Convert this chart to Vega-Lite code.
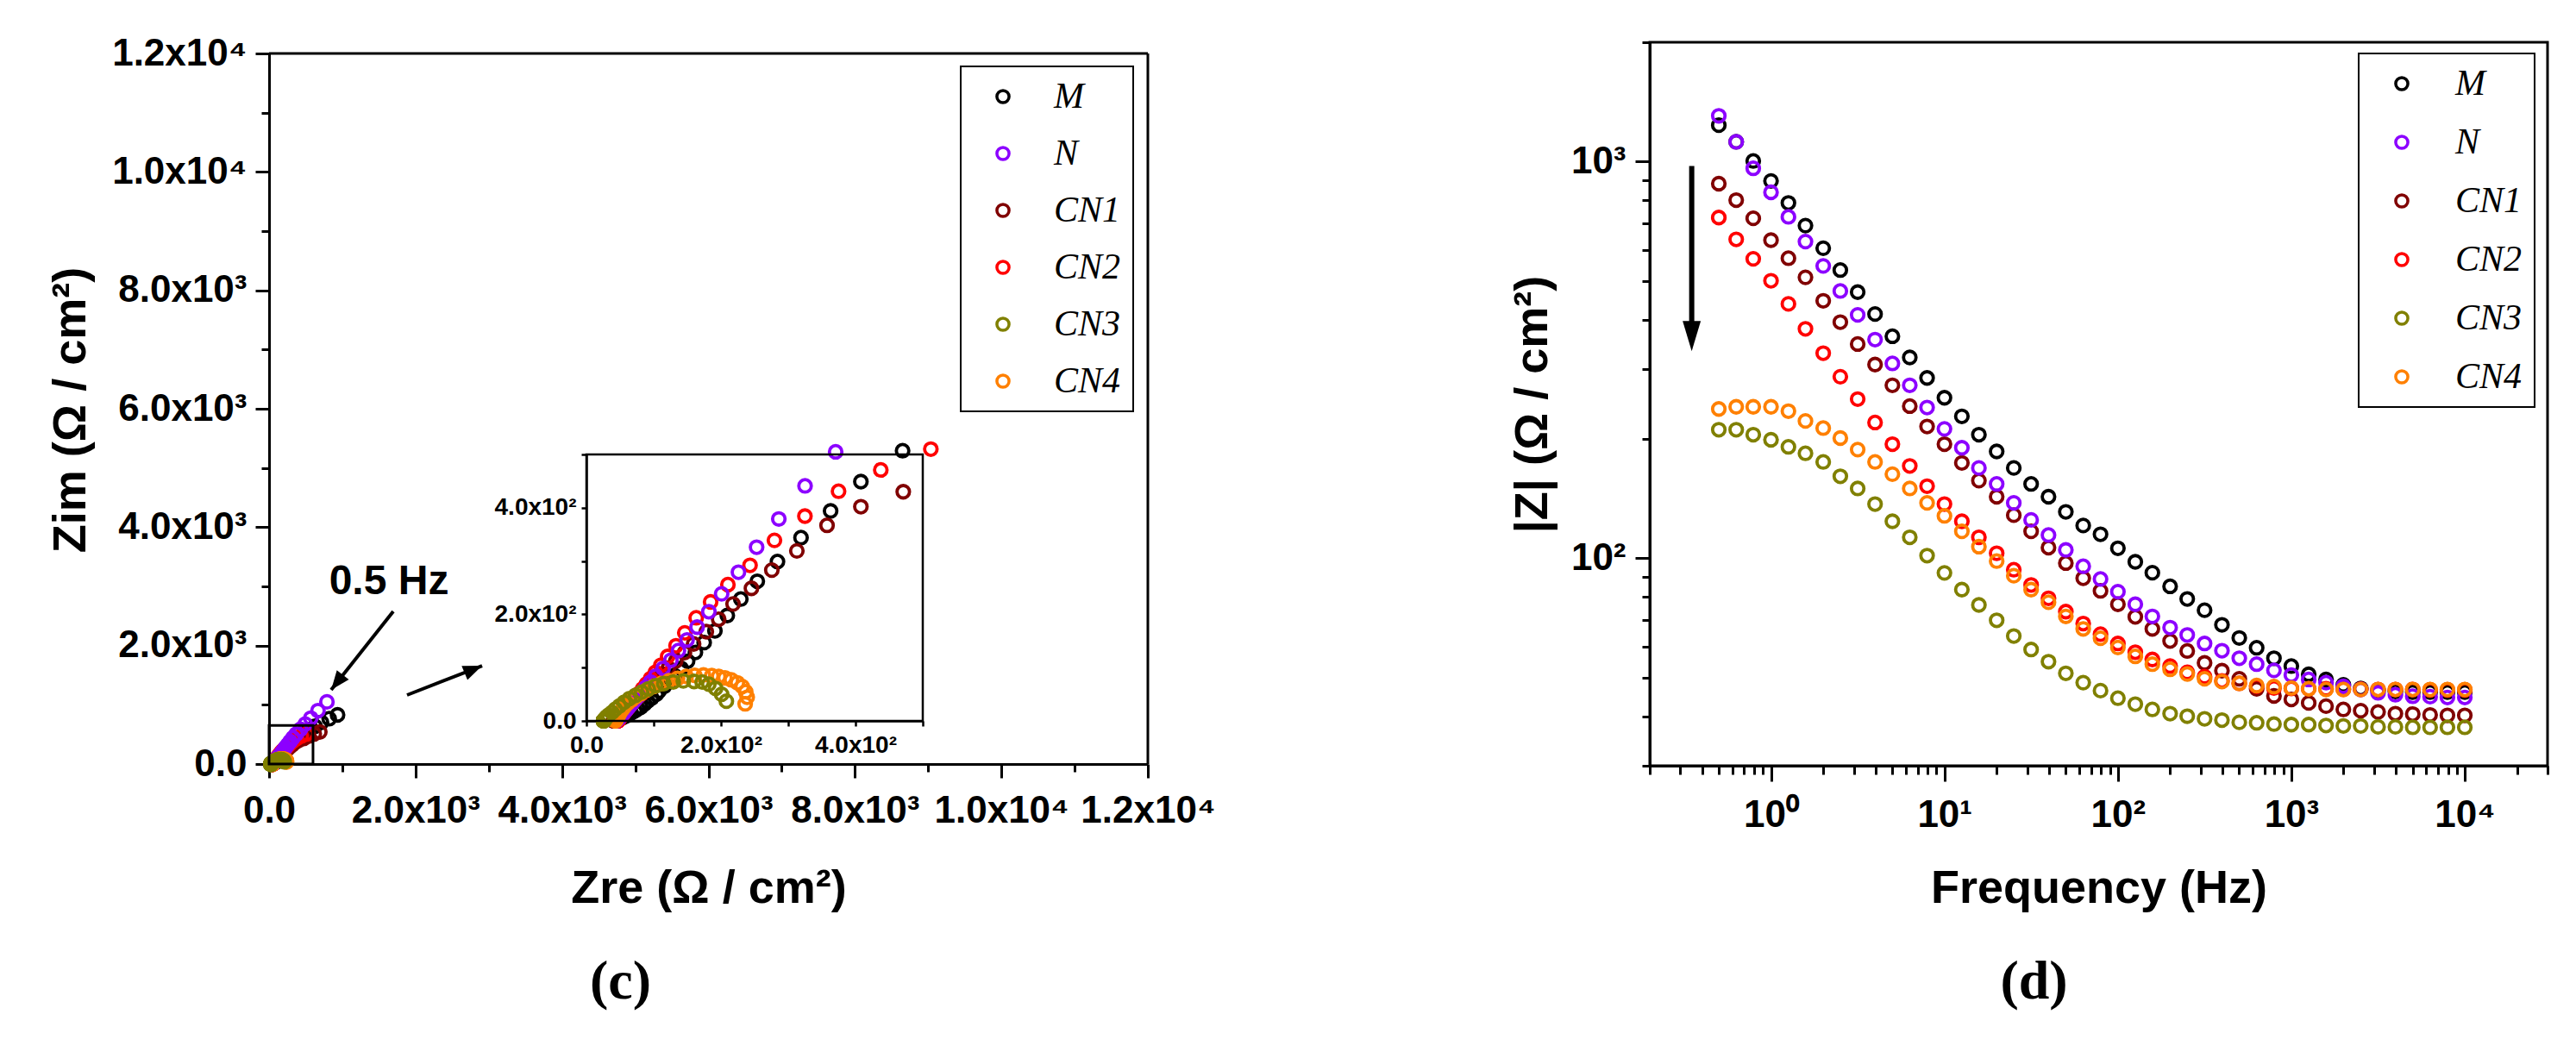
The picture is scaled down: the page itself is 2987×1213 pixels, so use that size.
{
  "$schema": "https://vega.github.io/schema/vega-lite/v6.json",
  "background": "white",
  "padding": {"left": 55, "top": 25, "right": 5, "bottom": 5},
  "bounds": "flush",
  "spacing": 582,
  "config": {
    "font": "Liberation Sans",
    "view": {"stroke": null},
    "axis": {
      "grid": false,
      "domainColor": "black",
      "domainWidth": 3,
      "tickColor": "black",
      "tickWidth": 3,
      "labelFont": "Liberation Sans",
      "labelFontWeight": "bold",
      "labelFontSize": 44,
      "labelColor": "black",
      "labelOverlap": false,
      "labelFlush": false,
      "titleFont": "Liberation Sans",
      "titleFontWeight": "bold",
      "titleFontSize": 54,
      "titleColor": "black"
    },
    "legend": {
      "direction": "vertical",
      "strokeColor": "black",
      "strokeWidth": 2,
      "fillColor": "white",
      "padding": 14,
      "labelFont": "Liberation Serif",
      "labelFontStyle": "italic",
      "labelFontSize": 42,
      "labelColor": "black",
      "symbolType": "circle",
      "symbolSize": 200,
      "symbolStrokeWidth": 3.5
    }
  },
  "datasets": {
    "eis": [
      {"sample":"M","freq":0.5,"Z":1236,"Zre":935,"Zim":830},
      {"sample":"M","freq":0.63,"Z":1122,"Zre":821,"Zim":765},
      {"sample":"M","freq":0.79,"Z":1004,"Zre":716,"Zim":704},
      {"sample":"M","freq":1,"Z":894,"Zre":627,"Zim":638},
      {"sample":"M","freq":1.26,"Z":787,"Zre":542,"Zim":571},
      {"sample":"M","freq":1.58,"Z":690,"Zre":470,"Zim":507},
      {"sample":"M","freq":2,"Z":605,"Zre":408,"Zim":449},
      {"sample":"M","freq":2.51,"Z":533,"Zre":363,"Zim":394},
      {"sample":"M","freq":3.16,"Z":469,"Zre":319,"Zim":344},
      {"sample":"M","freq":3.98,"Z":413,"Zre":284,"Zim":299},
      {"sample":"M","freq":5.01,"Z":363,"Zre":254,"Zim":262},
      {"sample":"M","freq":6.31,"Z":321,"Zre":229.5,"Zim":228.7},
      {"sample":"M","freq":7.94,"Z":285,"Zre":209.4,"Zim":197.8},
      {"sample":"M","freq":10,"Z":254,"Zre":191,"Zim":169},
      {"sample":"M","freq":12.6,"Z":228,"Zre":175,"Zim":147},
      {"sample":"M","freq":15.8,"Z":205,"Zre":162,"Zim":128.5},
      {"sample":"M","freq":20,"Z":186,"Zre":150.4,"Zim":112},
      {"sample":"M","freq":25.1,"Z":169,"Zre":141,"Zim":98.4},
      {"sample":"M","freq":31.6,"Z":154,"Zre":131,"Zim":85},
      {"sample":"M","freq":39.8,"Z":143,"Zre":124,"Zim":75},
      {"sample":"M","freq":50.1,"Z":131,"Zre":116,"Zim":65},
      {"sample":"M","freq":63.1,"Z":121,"Zre":108,"Zim":56},
      {"sample":"M","freq":79.4,"Z":115,"Zre":104,"Zim":50},
      {"sample":"M","freq":100,"Z":106,"Zre":97,"Zim":43},
      {"sample":"M","freq":126,"Z":98,"Zre":91,"Zim":37},
      {"sample":"M","freq":158,"Z":92,"Zre":86.5,"Zim":32},
      {"sample":"M","freq":200,"Z":85,"Zre":81,"Zim":26},
      {"sample":"M","freq":251,"Z":79,"Zre":76,"Zim":22},
      {"sample":"M","freq":316,"Z":74,"Zre":72,"Zim":19},
      {"sample":"M","freq":398,"Z":68,"Zre":66.5,"Zim":15},
      {"sample":"M","freq":501,"Z":63,"Zre":62,"Zim":12},
      {"sample":"M","freq":631,"Z":59.5,"Zre":59,"Zim":9.5},
      {"sample":"M","freq":794,"Z":56,"Zre":55.5,"Zim":7.5},
      {"sample":"M","freq":1000,"Z":53.5,"Zre":53.2,"Zim":6},
      {"sample":"M","freq":1259,"Z":51,"Zre":50.8,"Zim":4.6},
      {"sample":"M","freq":1585,"Z":49.5,"Zre":49.3,"Zim":3.6},
      {"sample":"M","freq":1995,"Z":48,"Zre":47.9,"Zim":2.8},
      {"sample":"M","freq":2512,"Z":47,"Zre":46.9,"Zim":2.2},
      {"sample":"M","freq":3162,"Z":46.5,"Zre":46.4,"Zim":1.8},
      {"sample":"M","freq":3981,"Z":46.2,"Zre":46.1,"Zim":1.5},
      {"sample":"M","freq":5012,"Z":46,"Zre":46,"Zim":1.2},
      {"sample":"M","freq":6310,"Z":46,"Zre":45.9,"Zim":1},
      {"sample":"M","freq":7943,"Z":46,"Zre":45.9,"Zim":0.9},
      {"sample":"M","freq":10000,"Z":46,"Zre":45.9,"Zim":0.8},

      {"sample":"CN1","freq":0.5,"Z":880,"Zre":693,"Zim":542},
      {"sample":"CN1","freq":0.63,"Z":800,"Zre":617,"Zim":509},
      {"sample":"CN1","freq":0.79,"Z":720,"Zre":543,"Zim":472},
      {"sample":"CN1","freq":1,"Z":634,"Zre":471,"Zim":430},
      {"sample":"CN1","freq":1.26,"Z":571,"Zre":408,"Zim":402},
      {"sample":"CN1","freq":1.58,"Z":511,"Zre":357.7,"Zim":367},
      {"sample":"CN1","freq":2,"Z":446,"Zre":312.8,"Zim":319},
      {"sample":"CN1","freq":2.51,"Z":394,"Zre":275.6,"Zim":283},
      {"sample":"CN1","freq":3.16,"Z":347,"Zre":245.3,"Zim":248.8},
      {"sample":"CN1","freq":3.98,"Z":308,"Zre":218,"Zim":219.5},
      {"sample":"CN1","freq":5.01,"Z":273,"Zre":196.6,"Zim":190.8},
      {"sample":"CN1","freq":6.31,"Z":242,"Zre":178.2,"Zim":167.5},
      {"sample":"CN1","freq":7.94,"Z":215,"Zre":159.3,"Zim":144.4},
      {"sample":"CN1","freq":10,"Z":194,"Zre":145.7,"Zim":128},
      {"sample":"CN1","freq":12.6,"Z":174,"Zre":132.8,"Zim":112.3},
      {"sample":"CN1","freq":15.8,"Z":157,"Zre":121.8,"Zim":99},
      {"sample":"CN1","freq":20,"Z":143,"Zre":112.7,"Zim":88},
      {"sample":"CN1","freq":25.1,"Z":128.5,"Zre":103.2,"Zim":76.5},
      {"sample":"CN1","freq":31.6,"Z":117,"Zre":95.7,"Zim":67.3},
      {"sample":"CN1","freq":39.8,"Z":106.4,"Zre":88.7,"Zim":58.8},
      {"sample":"CN1","freq":50.1,"Z":97.3,"Zre":82.6,"Zim":51.4},
      {"sample":"CN1","freq":63.1,"Z":89.1,"Zre":77,"Zim":44.7},
      {"sample":"CN1","freq":79.4,"Z":82.8,"Zre":72.8,"Zim":39.5},
      {"sample":"CN1","freq":100,"Z":76.6,"Zre":68.4,"Zim":34.3},
      {"sample":"CN1","freq":126,"Z":71.2,"Zre":64.7,"Zim":29.7},
      {"sample":"CN1","freq":158,"Z":66.4,"Zre":61.3,"Zim":25.5},
      {"sample":"CN1","freq":200,"Z":61.9,"Zre":58,"Zim":21.6},
      {"sample":"CN1","freq":251,"Z":58.4,"Zre":55.4,"Zim":18.4},
      {"sample":"CN1","freq":316,"Z":54.5,"Zre":52.4,"Zim":14.8},
      {"sample":"CN1","freq":398,"Z":52.1,"Zre":50.6,"Zim":12.6},
      {"sample":"CN1","freq":501,"Z":49.7,"Zre":48.6,"Zim":10.2},
      {"sample":"CN1","freq":631,"Z":46.9,"Zre":46.3,"Zim":7.4},
      {"sample":"CN1","freq":794,"Z":45,"Zre":44.7,"Zim":5.4},
      {"sample":"CN1","freq":1000,"Z":44.1,"Zre":43.9,"Zim":4.5},
      {"sample":"CN1","freq":1259,"Z":43.2,"Zre":43.1,"Zim":3.5},
      {"sample":"CN1","freq":1585,"Z":42.4,"Zre":42.3,"Zim":2.5},
      {"sample":"CN1","freq":1995,"Z":41.6,"Zre":41.5,"Zim":1.6},
      {"sample":"CN1","freq":2512,"Z":41.3,"Zre":41.3,"Zim":1.3},
      {"sample":"CN1","freq":3162,"Z":41,"Zre":41,"Zim":1},
      {"sample":"CN1","freq":3981,"Z":40.6,"Zre":40.6,"Zim":0.6},
      {"sample":"CN1","freq":5012,"Z":40.5,"Zre":40.5,"Zim":0.5},
      {"sample":"CN1","freq":6310,"Z":40.3,"Zre":40.3,"Zim":0.3},
      {"sample":"CN1","freq":7943,"Z":40.2,"Zre":40.2,"Zim":0.2},
      {"sample":"CN1","freq":10000,"Z":40.2,"Zre":40.2,"Zim":0.2},

      {"sample":"CN2","freq":0.5,"Z":723,"Zre":512,"Zim":510},
      {"sample":"CN2","freq":0.63,"Z":637,"Zre":437.6,"Zim":471},
      {"sample":"CN2","freq":0.79,"Z":569,"Zre":374.8,"Zim":430.9},
      {"sample":"CN2","freq":1,"Z":501,"Zre":324.8,"Zim":384.3},
      {"sample":"CN2","freq":1.26,"Z":438,"Zre":279.5,"Zim":338.8},
      {"sample":"CN2","freq":1.58,"Z":379,"Zre":243.2,"Zim":292},
      {"sample":"CN2","freq":2,"Z":329,"Zre":210.3,"Zim":255.8},
      {"sample":"CN2","freq":2.51,"Z":287,"Zre":184.6,"Zim":223.3},
      {"sample":"CN2","freq":3.16,"Z":252,"Zre":163.2,"Zim":193.5},
      {"sample":"CN2","freq":3.98,"Z":220,"Zre":146.2,"Zim":165.3},
      {"sample":"CN2","freq":5.01,"Z":194,"Zre":133.2,"Zim":141.1},
      {"sample":"CN2","freq":6.31,"Z":171,"Zre":120.8,"Zim":121},
      {"sample":"CN2","freq":7.94,"Z":152,"Zre":110.6,"Zim":104.3},
      {"sample":"CN2","freq":10,"Z":137,"Zre":102.5,"Zim":91},
      {"sample":"CN2","freq":12.6,"Z":124,"Zre":95.3,"Zim":79.3},
      {"sample":"CN2","freq":15.8,"Z":113,"Zre":89.2,"Zim":69.4},
      {"sample":"CN2","freq":20,"Z":103,"Zre":83.6,"Zim":60.2},
      {"sample":"CN2","freq":25.1,"Z":93.6,"Zre":78.2,"Zim":51.4},
      {"sample":"CN2","freq":31.6,"Z":85.7,"Zre":73.6,"Zim":43.9},
      {"sample":"CN2","freq":39.8,"Z":79.3,"Zre":69.8,"Zim":37.7},
      {"sample":"CN2","freq":50.1,"Z":73.4,"Zre":66.2,"Zim":31.8},
      {"sample":"CN2","freq":63.1,"Z":68.5,"Zre":63.1,"Zim":26.7},
      {"sample":"CN2","freq":79.4,"Z":64.4,"Zre":60.4,"Zim":22.3},
      {"sample":"CN2","freq":100,"Z":61,"Zre":58.1,"Zim":18.6},
      {"sample":"CN2","freq":126,"Z":58,"Zre":56,"Zim":15.2},
      {"sample":"CN2","freq":158,"Z":55.6,"Zre":54.2,"Zim":12.3},
      {"sample":"CN2","freq":200,"Z":53.5,"Zre":52.6,"Zim":9.6},
      {"sample":"CN2","freq":251,"Z":51.6,"Zre":51.1,"Zim":7.2},
      {"sample":"CN2","freq":316,"Z":50.3,"Zre":50,"Zim":5.4},
      {"sample":"CN2","freq":398,"Z":49.1,"Zre":48.9,"Zim":3.7},
      {"sample":"CN2","freq":501,"Z":48.4,"Zre":48.3,"Zim":2.6},
      {"sample":"CN2","freq":631,"Z":47.6,"Zre":47.6,"Zim":1.4},
      {"sample":"CN2","freq":794,"Z":47.1,"Zre":47.1,"Zim":0.8},
      {"sample":"CN2","freq":1000,"Z":47,"Zre":47,"Zim":0.7},
      {"sample":"CN2","freq":1259,"Z":46.9,"Zre":46.9,"Zim":0.6},
      {"sample":"CN2","freq":1585,"Z":46.9,"Zre":46.9,"Zim":0.5},
      {"sample":"CN2","freq":1995,"Z":46.8,"Zre":46.8,"Zim":0.5},
      {"sample":"CN2","freq":2512,"Z":46.8,"Zre":46.8,"Zim":0.4},
      {"sample":"CN2","freq":3162,"Z":46.7,"Zre":46.7,"Zim":0.4},
      {"sample":"CN2","freq":3981,"Z":46.7,"Zre":46.7,"Zim":0.3},
      {"sample":"CN2","freq":5012,"Z":46.7,"Zre":46.7,"Zim":0.3},
      {"sample":"CN2","freq":6310,"Z":46.6,"Zre":46.6,"Zim":0.3},
      {"sample":"CN2","freq":7943,"Z":46.6,"Zre":46.6,"Zim":0.2},
      {"sample":"CN2","freq":10000,"Z":46.6,"Zre":46.6,"Zim":0.2},

      {"sample":"N","freq":0.5,"Z":1305,"Zre":790,"Zim":1050},
      {"sample":"N","freq":0.63,"Z":1122,"Zre":668,"Zim":902},
      {"sample":"N","freq":0.79,"Z":962,"Zre":570,"Zim":775},
      {"sample":"N","freq":1,"Z":837,"Zre":494,"Zim":675},
      {"sample":"N","freq":1.26,"Z":726,"Zre":428,"Zim":586},
      {"sample":"N","freq":1.58,"Z":629,"Zre":370.5,"Zim":505},
      {"sample":"N","freq":2,"Z":546,"Zre":325,"Zim":441},
      {"sample":"N","freq":2.51,"Z":472,"Zre":286,"Zim":379},
      {"sample":"N","freq":3.16,"Z":411,"Zre":253,"Zim":326},
      {"sample":"N","freq":3.98,"Z":356,"Zre":226,"Zim":279},
      {"sample":"N","freq":5.01,"Z":310,"Zre":201,"Zim":238.5},
      {"sample":"N","freq":6.31,"Z":273,"Zre":182,"Zim":205},
      {"sample":"N","freq":7.94,"Z":240,"Zre":164.5,"Zim":176},
      {"sample":"N","freq":10,"Z":212,"Zre":149.6,"Zim":152},
      {"sample":"N","freq":12.6,"Z":190,"Zre":136.8,"Zim":132},
      {"sample":"N","freq":15.8,"Z":169,"Zre":125.6,"Zim":114},
      {"sample":"N","freq":20,"Z":154,"Zre":114,"Zim":98.6},
      {"sample":"N","freq":25.1,"Z":138,"Zre":103,"Zim":84},
      {"sample":"N","freq":31.6,"Z":125,"Zre":95.2,"Zim":72.8},
      {"sample":"N","freq":39.8,"Z":114.5,"Zre":88.5,"Zim":63.1},
      {"sample":"N","freq":50.1,"Z":105,"Zre":82.7,"Zim":54.7},
      {"sample":"N","freq":63.1,"Z":95.5,"Zre":77.6,"Zim":47.4},
      {"sample":"N","freq":79.4,"Z":88.7,"Zre":73.2,"Zim":41.1},
      {"sample":"N","freq":100,"Z":82.4,"Zre":69.4,"Zim":35.7},
      {"sample":"N","freq":126,"Z":76.6,"Zre":66.1,"Zim":30.9},
      {"sample":"N","freq":158,"Z":71.4,"Zre":63.3,"Zim":26.8},
      {"sample":"N","freq":200,"Z":66.9,"Zre":60.8,"Zim":23.2},
      {"sample":"N","freq":251,"Z":64.1,"Zre":58.6,"Zim":20.1},
      {"sample":"N","freq":316,"Z":61,"Zre":56.8,"Zim":17.5},
      {"sample":"N","freq":398,"Z":58.5,"Zre":55.1,"Zim":15.1},
      {"sample":"N","freq":501,"Z":56,"Zre":53.7,"Zim":13.1},
      {"sample":"N","freq":631,"Z":54.1,"Zre":52.5,"Zim":11.4},
      {"sample":"N","freq":794,"Z":52.2,"Zre":51.5,"Zim":9.9},
      {"sample":"N","freq":1000,"Z":50.8,"Zre":50.3,"Zim":8},
      {"sample":"N","freq":1259,"Z":49.5,"Zre":49.3,"Zim":6.7},
      {"sample":"N","freq":1585,"Z":48.6,"Zre":48.6,"Zim":5.5},
      {"sample":"N","freq":1995,"Z":47.6,"Zre":47.6,"Zim":4.3},
      {"sample":"N","freq":2512,"Z":46.7,"Zre":46.7,"Zim":3.3},
      {"sample":"N","freq":3162,"Z":45.8,"Zre":45.8,"Zim":2.5},
      {"sample":"N","freq":3981,"Z":45.3,"Zre":45.3,"Zim":1.9},
      {"sample":"N","freq":5012,"Z":44.9,"Zre":44.9,"Zim":1.4},
      {"sample":"N","freq":6310,"Z":44.8,"Zre":44.8,"Zim":1.1},
      {"sample":"N","freq":7943,"Z":44.6,"Zre":44.6,"Zim":0.8},
      {"sample":"N","freq":10000,"Z":44.6,"Zre":44.6,"Zim":0.6},

      {"sample":"CN4","freq":0.5,"Z":238,"Zre":236,"Zim":32},
      {"sample":"CN4","freq":0.63,"Z":241,"Zre":239,"Zim":44.4},
      {"sample":"CN4","freq":0.79,"Z":241,"Zre":236.8,"Zim":54.7},
      {"sample":"CN4","freq":1,"Z":241,"Zre":231.6,"Zim":64.5},
      {"sample":"CN4","freq":1.26,"Z":235,"Zre":224.4,"Zim":71.5},
      {"sample":"CN4","freq":1.58,"Z":222,"Zre":215.4,"Zim":77},
      {"sample":"CN4","freq":2,"Z":213,"Zre":206,"Zim":80.8},
      {"sample":"CN4","freq":2.51,"Z":201,"Zre":196.6,"Zim":83.5},
      {"sample":"CN4","freq":3.16,"Z":188,"Zre":186.3,"Zim":85},
      {"sample":"CN4","freq":3.98,"Z":175,"Zre":174,"Zim":86.2},
      {"sample":"CN4","freq":5.01,"Z":163,"Zre":161,"Zim":85.6},
      {"sample":"CN4","freq":6.31,"Z":150,"Zre":148.3,"Zim":83.5},
      {"sample":"CN4","freq":7.94,"Z":138,"Zre":135.5,"Zim":79.7},
      {"sample":"CN4","freq":10,"Z":128,"Zre":122.6,"Zim":75.3},
      {"sample":"CN4","freq":12.6,"Z":117,"Zre":111,"Zim":70},
      {"sample":"CN4","freq":15.8,"Z":107,"Zre":100,"Zim":64.5},
      {"sample":"CN4","freq":20,"Z":98.4,"Zre":89.7,"Zim":58},
      {"sample":"CN4","freq":25.1,"Z":90.4,"Zre":81.2,"Zim":51.5},
      {"sample":"CN4","freq":31.6,"Z":83.4,"Zre":73.5,"Zim":45.5},
      {"sample":"CN4","freq":39.8,"Z":77.5,"Zre":67.1,"Zim":39},
      {"sample":"CN4","freq":50.1,"Z":71.4,"Zre":61.5,"Zim":33.6},
      {"sample":"CN4","freq":63.1,"Z":66.4,"Zre":57.3,"Zim":28.2},
      {"sample":"CN4","freq":79.4,"Z":62.9,"Zre":53.8,"Zim":22.8},
      {"sample":"CN4","freq":100,"Z":59.6,"Zre":51.3,"Zim":18.4},
      {"sample":"CN4","freq":126,"Z":56.6,"Zre":49.1,"Zim":14.6},
      {"sample":"CN4","freq":158,"Z":54.1,"Zre":47.9,"Zim":11.4},
      {"sample":"CN4","freq":200,"Z":52.5,"Zre":46.6,"Zim":8.7},
      {"sample":"CN4","freq":251,"Z":51.1,"Zre":45.7,"Zim":6.5},
      {"sample":"CN4","freq":316,"Z":49.7,"Zre":44.9,"Zim":4.9},
      {"sample":"CN4","freq":398,"Z":48.9,"Zre":44.5,"Zim":3.8},
      {"sample":"CN4","freq":501,"Z":48.4,"Zre":44.2,"Zim":3},
      {"sample":"CN4","freq":631,"Z":47.8,"Zre":44,"Zim":2.4},
      {"sample":"CN4","freq":794,"Z":47.5,"Zre":43.8,"Zim":2},
      {"sample":"CN4","freq":1000,"Z":47.1,"Zre":43.6,"Zim":1.7},
      {"sample":"CN4","freq":1259,"Z":46.9,"Zre":43.5,"Zim":1.4},
      {"sample":"CN4","freq":1585,"Z":46.7,"Zre":43.4,"Zim":1.2},
      {"sample":"CN4","freq":1995,"Z":46.7,"Zre":43.3,"Zim":1},
      {"sample":"CN4","freq":2512,"Z":46.7,"Zre":43.2,"Zim":0.9},
      {"sample":"CN4","freq":3162,"Z":46.7,"Zre":43.2,"Zim":0.8},
      {"sample":"CN4","freq":3981,"Z":46.7,"Zre":43.1,"Zim":0.7},
      {"sample":"CN4","freq":5012,"Z":46.7,"Zre":43.1,"Zim":0.6},
      {"sample":"CN4","freq":6310,"Z":46.7,"Zre":43,"Zim":0.6},
      {"sample":"CN4","freq":7943,"Z":46.7,"Zre":43,"Zim":0.5},
      {"sample":"CN4","freq":10000,"Z":46.7,"Zre":43,"Zim":0.5},

      {"sample":"CN3","freq":0.5,"Z":211,"Zre":208,"Zim":37},
      {"sample":"CN3","freq":0.63,"Z":211,"Zre":201,"Zim":50},
      {"sample":"CN3","freq":0.79,"Z":205,"Zre":192,"Zim":61},
      {"sample":"CN3","freq":1,"Z":199,"Zre":182,"Zim":69},
      {"sample":"CN3","freq":1.26,"Z":191,"Zre":172,"Zim":73},
      {"sample":"CN3","freq":1.58,"Z":184,"Zre":160,"Zim":74},
      {"sample":"CN3","freq":2,"Z":175,"Zre":144,"Zim":75},
      {"sample":"CN3","freq":2.51,"Z":161,"Zre":129,"Zim":73},
      {"sample":"CN3","freq":3.16,"Z":150,"Zre":115,"Zim":70},
      {"sample":"CN3","freq":3.98,"Z":137,"Zre":103,"Zim":66},
      {"sample":"CN3","freq":5.01,"Z":124,"Zre":92,"Zim":60},
      {"sample":"CN3","freq":6.31,"Z":113,"Zre":82,"Zim":54},
      {"sample":"CN3","freq":7.94,"Z":101.6,"Zre":73,"Zim":48},
      {"sample":"CN3","freq":10,"Z":91.9,"Zre":64,"Zim":42},
      {"sample":"CN3","freq":12.6,"Z":83.4,"Zre":56,"Zim":35},
      {"sample":"CN3","freq":15.8,"Z":76.3,"Zre":49,"Zim":28},
      {"sample":"CN3","freq":20,"Z":69.8,"Zre":43,"Zim":22},
      {"sample":"CN3","freq":25.1,"Z":63.7,"Zre":38,"Zim":16},
      {"sample":"CN3","freq":31.6,"Z":58.9,"Zre":33,"Zim":11},
      {"sample":"CN3","freq":39.8,"Z":54.9,"Zre":30,"Zim":7.6},
      {"sample":"CN3","freq":50.1,"Z":51.3,"Zre":28.5,"Zim":5},
      {"sample":"CN3","freq":63.1,"Z":48.6,"Zre":27.5,"Zim":3.5},
      {"sample":"CN3","freq":79.4,"Z":46.4,"Zre":27,"Zim":2.5},
      {"sample":"CN3","freq":100,"Z":44.4,"Zre":26.6,"Zim":1.9},
      {"sample":"CN3","freq":126,"Z":42.9,"Zre":26.3,"Zim":1.5},
      {"sample":"CN3","freq":158,"Z":41.6,"Zre":26.1,"Zim":1.2},
      {"sample":"CN3","freq":200,"Z":40.6,"Zre":26,"Zim":1},
      {"sample":"CN3","freq":251,"Z":40,"Zre":25.9,"Zim":0.8},
      {"sample":"CN3","freq":316,"Z":39.4,"Zre":25.8,"Zim":0.7},
      {"sample":"CN3","freq":398,"Z":39.1,"Zre":25.7,"Zim":0.6},
      {"sample":"CN3","freq":501,"Z":38.6,"Zre":25.7,"Zim":0.5},
      {"sample":"CN3","freq":631,"Z":38.5,"Zre":25.6,"Zim":0.5},
      {"sample":"CN3","freq":794,"Z":38.2,"Zre":25.6,"Zim":0.4},
      {"sample":"CN3","freq":1000,"Z":38.1,"Zre":25.6,"Zim":0.4},
      {"sample":"CN3","freq":1259,"Z":38.1,"Zre":25.5,"Zim":0.4},
      {"sample":"CN3","freq":1585,"Z":37.9,"Zre":25.5,"Zim":0.3},
      {"sample":"CN3","freq":1995,"Z":37.8,"Zre":25.5,"Zim":0.3},
      {"sample":"CN3","freq":2512,"Z":37.8,"Zre":25.5,"Zim":0.3},
      {"sample":"CN3","freq":3162,"Z":37.6,"Zre":25.5,"Zim":0.3},
      {"sample":"CN3","freq":3981,"Z":37.6,"Zre":25.5,"Zim":0.2},
      {"sample":"CN3","freq":5012,"Z":37.5,"Zre":25.5,"Zim":0.2},
      {"sample":"CN3","freq":6310,"Z":37.5,"Zre":25.5,"Zim":0.2},
      {"sample":"CN3","freq":7943,"Z":37.5,"Zre":25.5,"Zim":0.2},
      {"sample":"CN3","freq":10000,"Z":37.5,"Zre":25.5,"Zim":0.2}
    ]
  },
  "resolve": {"legend": {"color": "independent"}},
  "hconcat": [
    {
      "width": 1019,
      "height": 837,
      "title": {"text": "(c)", "orient": "bottom", "frame": "group", "anchor": "middle", "font": "Liberation Serif", "fontSize": 64, "fontWeight": "bold", "color": "black", "dx": -102, "offset": 50},
      "resolve": {"scale": {"x": "independent", "y": "independent"}},
      "layer": [
        {
          "layer": [
            {
              "data": {"name": "eis"},
              "mark": {"type": "point", "shape": "circle", "filled": false, "size": 210, "strokeWidth": 3.8, "opacity": 1},
              "encoding": {
                "x": {
                  "field": "Zre", "type": "quantitative",
                  "scale": {"domain": [0, 12000], "nice": false, "zero": false},
                  "axis": {
                    "title": "Zre (Ω / cm²)",
                    "values": [0, 1000, 2000, 3000, 4000, 5000, 6000, 7000, 8000, 9000, 10000, 11000, 12000],
                    "labelExpr": "datum.value == 0 ? '0.0' : datum.value % 2000 != 0 ? '' : datum.value < 10000 ? format(datum.value / 1000, '.1f') + 'x10³' : format(datum.value / 10000, '.1f') + 'x10⁴'",
                    "tickSize": 16,
                    "tickDash": {"condition": {"test": "datum.value % 2000 != 0", "value": [9, 40]}, "value": []},
                    "labelPadding": 16,
                    "titleY": 160,
                    "titleBaseline": "alphabetic"
                  }
                },
                "y": {
                  "field": "Zim", "type": "quantitative",
                  "scale": {"domain": [0, 12000], "range": [837, 13], "nice": false, "zero": false},
                  "axis": {
                    "title": "Zim (Ω / cm²)",
                    "values": [0, 1000, 2000, 3000, 4000, 5000, 6000, 7000, 8000, 9000, 10000, 11000, 12000],
                    "labelExpr": "datum.value == 0 ? '0.0' : datum.value % 2000 != 0 ? '' : datum.value < 10000 ? format(datum.value / 1000, '.1f') + 'x10³' : format(datum.value / 10000, '.1f') + 'x10⁴'",
                    "tickSize": 16,
                    "tickDash": {"condition": {"test": "datum.value % 2000 != 0", "value": [9, 40]}, "value": []},
                    "labelPadding": 10,
                    "titleX": -214,
                    "titleY": 426,
                    "titleBaseline": "alphabetic"
                  }
                },
                "color": {
                  "field": "sample", "type": "nominal",
                  "scale": {"domain": ["M", "N", "CN1", "CN2", "CN3", "CN4"], "range": ["#000000", "#8C00FF", "#800000", "#FF0000", "#808000", "#FF8000"]},
                  "legend": {"title": null, "orient": "none", "legendX": 802, "legendY": 28, "symbolOffset": 14, "labelOffset": 38, "rowPadding": 24}
                }
              }
            },
            {
              "data": {"values": [{}]},
              "mark": {"type": "rule", "color": "black", "strokeWidth": 3},
              "encoding": {
                "x": {"datum": 0, "type": "quantitative"},
                "x2": {"datum": 12000},
                "y": {"datum": 12000, "type": "quantitative"}
              }
            },
            {
              "data": {"values": [{}]},
              "mark": {"type": "rule", "color": "black", "strokeWidth": 3},
              "encoding": {
                "x": {"datum": 12000, "type": "quantitative"},
                "y": {"datum": 0, "type": "quantitative"},
                "y2": {"datum": 12000}
              }
            },
            {
              "data": {"values": [{}]},
              "mark": {"type": "rect", "filled": false, "color": "black", "strokeWidth": 3},
              "encoding": {
                "x": {"datum": 0, "type": "quantitative"},
                "x2": {"datum": 600},
                "y": {"datum": 0, "type": "quantitative"},
                "y2": {"datum": 650}
              }
            },
            {
              "data": {"values": [{}]},
              "mark": {"type": "rule", "color": "black", "strokeWidth": 4},
              "encoding": {
                "x": {"datum": 1696, "type": "quantitative"},
                "y": {"datum": 2578, "type": "quantitative"},
                "x2": {"datum": 848},
                "y2": {"datum": 1252}
              }
            },
            {
              "data": {"values": [{}]},
              "mark": {"type": "point", "shape": "M0,0L-0.4,1L0.4,1Z", "filled": true, "color": "black", "opacity": 1, "size": 1936, "angle": 218},
              "encoding": {
                "x": {"datum": 848, "type": "quantitative"},
                "y": {"datum": 1252, "type": "quantitative"}
              }
            },
            {
              "data": {"values": [{}]},
              "mark": {"type": "rule", "color": "black", "strokeWidth": 4},
              "encoding": {
                "x": {"datum": 1884, "type": "quantitative"},
                "y": {"datum": 1165, "type": "quantitative"},
                "x2": {"datum": 2909},
                "y2": {"datum": 1660}
              }
            },
            {
              "data": {"values": [{}]},
              "mark": {"type": "point", "shape": "M0,0L-0.4,1L0.4,1Z", "filled": true, "color": "black", "opacity": 1, "size": 1936, "angle": 67.5},
              "encoding": {
                "x": {"datum": 2909, "type": "quantitative"},
                "y": {"datum": 1660, "type": "quantitative"}
              }
            },
            {
              "data": {"values": [{}]},
              "mark": {"type": "text", "text": "0.5 Hz", "font": "Liberation Sans", "fontWeight": "bold", "fontSize": 48, "color": "black", "align": "center", "baseline": "middle"},
              "encoding": {
                "x": {"datum": 1637, "type": "quantitative"},
                "y": {"datum": 3073, "type": "quantitative"}
              }
            }
          ]
        },
        {
          "layer": [
            {
              "data": {"name": "eis"},
              "transform": [{"filter": "datum.Zre <= 512 && datum.Zim <= 512"}],
              "mark": {"type": "point", "shape": "circle", "filled": false, "size": 210, "strokeWidth": 3.8, "opacity": 1},
              "encoding": {
                "x": {
                  "field": "Zre", "type": "quantitative",
                  "scale": {"domain": [0, 500], "range": [368, 758], "nice": false, "zero": false},
                  "axis": {
                    "title": null, "orient": "bottom", "offset": -50,
                    "values": [0, 100, 200, 300, 400, 500],
                    "labelExpr": "datum.value == 0 ? '0.0' : datum.value == 200 ? '2.0x10²' : datum.value == 400 ? '4.0x10²' : ''",
                    "tickSize": 6, "tickWidth": 2.5, "domainWidth": 2.5,
                    "labelFontSize": 28, "labelPadding": 8
                  }
                },
                "y": {
                  "field": "Zim", "type": "quantitative",
                  "scale": {"domain": [0, 500], "range": [787, 478], "nice": false, "zero": false},
                  "axis": {
                    "title": null, "orient": "left", "offset": -368,
                    "values": [0, 100, 200, 300, 400, 500],
                    "labelExpr": "datum.value == 0 ? '0.0' : datum.value == 200 ? '2.0x10²' : datum.value == 400 ? '4.0x10²' : ''",
                    "tickSize": 6, "tickWidth": 2.5, "domainWidth": 2.5,
                    "labelFontSize": 28, "labelPadding": 6
                  }
                },
                "color": {"field": "sample", "type": "nominal", "legend": null}
              }
            },
            {
              "data": {"values": [{}]},
              "mark": {"type": "rect", "filled": false, "color": "black", "strokeWidth": 2.5},
              "encoding": {
                "x": {"datum": 0, "type": "quantitative"},
                "x2": {"datum": 500},
                "y": {"datum": 0, "type": "quantitative"},
                "y2": {"datum": 500}
              }
            }
          ]
        }
      ]
    },
    {
      "width": 1041,
      "height": 839,
      "view": {"stroke": "black", "strokeWidth": 3},
      "title": {"text": "(d)", "orient": "bottom", "frame": "group", "anchor": "middle", "font": "Liberation Serif", "fontSize": 64, "fontWeight": "bold", "color": "black", "dx": -75, "offset": 50},
      "layer": [
        {
          "data": {"name": "eis"},
          "mark": {"type": "point", "shape": "circle", "filled": false, "size": 210, "strokeWidth": 3.8, "opacity": 1},
          "encoding": {
            "x": {
              "field": "freq", "type": "quantitative",
              "scale": {"type": "log", "domain": [0.2, 30000], "nice": false},
              "axis": {
                "title": "Frequency (Hz)",
                "values": [0.2, 0.3, 0.4, 0.5, 0.6, 0.7, 0.8, 0.9, 1, 2, 3, 4, 5, 6, 7, 8, 9, 10, 20, 30, 40, 50, 60, 70, 80, 90, 100, 200, 300, 400, 500, 600, 700, 800, 900, 1000, 2000, 3000, 4000, 5000, 6000, 7000, 8000, 9000, 10000, 20000, 30000],
                "labelExpr": "datum.value == 1 ? '10⁰' : datum.value == 10 ? '10¹' : datum.value == 100 ? '10²' : datum.value == 1000 ? '10³' : datum.value == 10000 ? '10⁴' : ''",
                "tickSize": 18,
                "tickDash": {"condition": {"test": "indexof([1, 10, 100, 1000, 10000], datum.value) < 0", "value": [10, 40]}, "value": []},
                "labelPadding": 17,
                "titleY": 158,
                "titleBaseline": "alphabetic"
              }
            },
            "y": {
              "field": "Z", "type": "quantitative",
              "scale": {"type": "log", "domain": [30, 2000], "nice": false},
              "axis": {
                "title": "|Z| (Ω / cm²)",
                "values": [30, 40, 50, 60, 70, 80, 90, 100, 200, 300, 400, 500, 600, 700, 800, 900, 1000, 2000],
                "labelExpr": "datum.value == 100 ? '10²' : datum.value == 1000 ? '10³' : ''",
                "tickSize": 17,
                "tickDash": {"condition": {"test": "indexof([100, 1000], datum.value) < 0", "value": [9, 40]}, "value": []},
                "labelPadding": 11,
                "titleX": -120,
                "titleBaseline": "alphabetic"
              }
            },
            "color": {
              "field": "sample", "type": "nominal",
              "scale": {"domain": ["M", "N", "CN1", "CN2", "CN3", "CN4"], "range": ["#000000", "#8C00FF", "#800000", "#FF0000", "#808000", "#FF8000"]},
              "legend": {"title": null, "orient": "none", "legendX": 822, "legendY": 13, "symbolOffset": 15, "labelOffset": 41, "rowPadding": 26}
            }
          }
        },
        {
          "data": {"values": [{}]},
          "mark": {"type": "rule", "color": "black", "strokeWidth": 6},
          "encoding": {
            "x": {"datum": 0.349, "type": "quantitative"},
            "y": {"datum": 975, "type": "quantitative"},
            "y2": {"datum": 380}
          }
        },
        {
          "data": {"values": [{}]},
          "mark": {"type": "point", "shape": "M0,0L-0.3,1L0.3,1Z", "filled": true, "color": "black", "opacity": 1, "size": 4900, "angle": 180},
          "encoding": {
            "x": {"datum": 0.349, "type": "quantitative"},
            "y": {"datum": 333, "type": "quantitative"}
          }
        }
      ]
    }
  ]
}
